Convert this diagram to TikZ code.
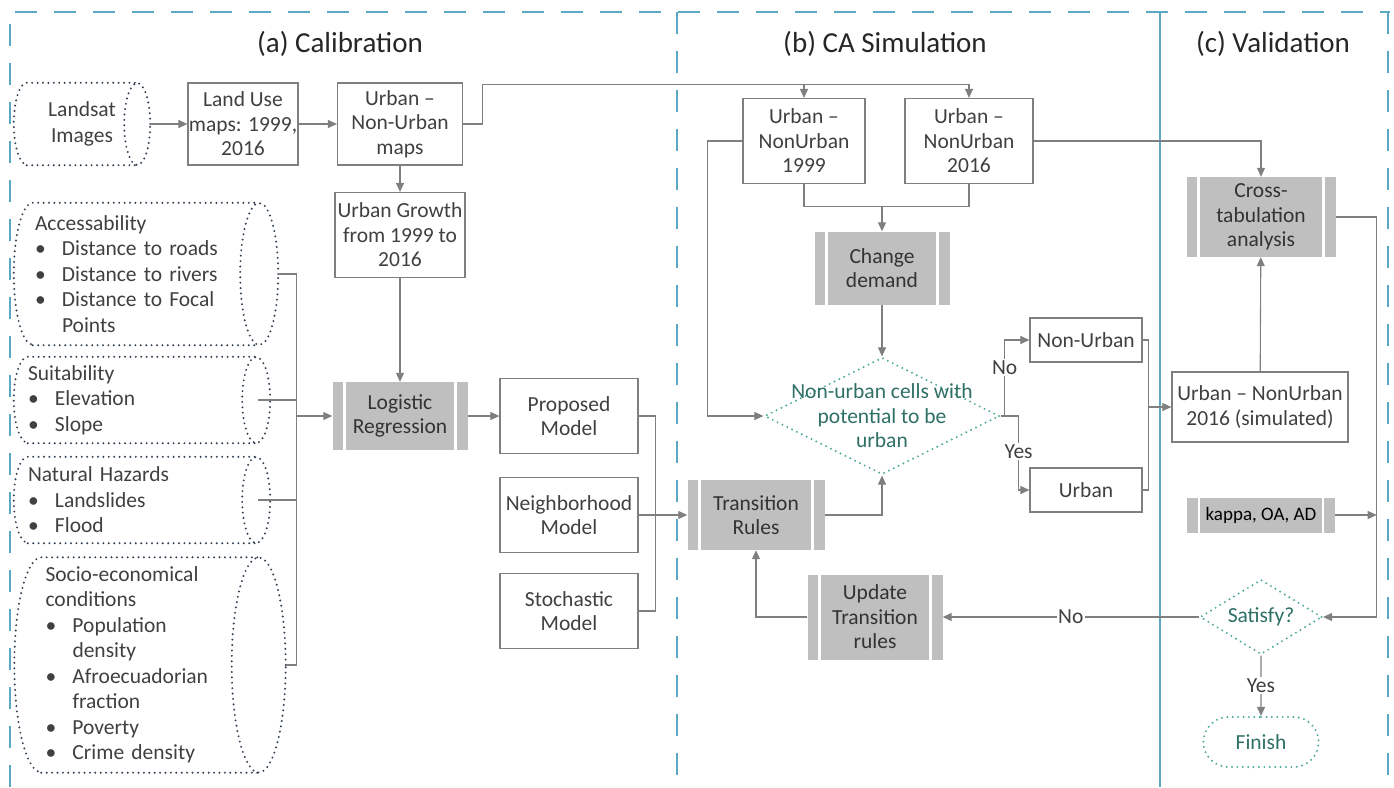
\documentclass[tikz,border=0pt]{standalone}
\usepackage{fontspec}
\setmainfont{Carlito}
\usetikzlibrary{shapes.geometric,shapes.misc,arrows.meta}

\definecolor{linegray}{HTML}{7F7F7F}
\definecolor{txtgray}{HTML}{404040}
\definecolor{procgray}{HTML}{BFBFBF}
\definecolor{inkblue}{HTML}{344256}
\definecolor{dotteal}{HTML}{4FA99C}
\definecolor{txtteal}{HTML}{2E6F66}
\definecolor{frameblue}{HTML}{5BA8C4}

\newcommand{\itm}[1]{\makebox[27pt][l]{\textbullet}#1}
\newcommand{\storeedge}[3]{%
  \draw[inkblue, dots] ([xshift=#2]#1.north west) -- ([xshift=-#2]#1.north east)
    ([xshift=#2]#1.south west) -- ([xshift=-#2]#1.south east)
    ([xshift=-#2]#1.east) ellipse [x radius=#2, y radius=#3]
    ([xshift=#2]#1.north west) arc [start angle=90, end angle=270, x radius=#2, y radius=#3];}

\tikzset{
  dots/.style={line width=2.2pt, line cap=round, dash pattern=on 0pt off 5.4pt},
  box/.style={draw=linegray, line width=1.2pt, text=txtgray, align=center,
    inner sep=0pt, font=\fontsize{21.5}{24.5}\selectfont},
  proc/.style={fill=procgray, text=black!80, align=center, inner sep=0pt,
    font=\fontsize{21.5}{24.5}\selectfont,
    path picture={
      \draw[white, line width=2.5pt]
        ([xshift=12pt]path picture bounding box.south west) -- ([xshift=12pt]path picture bounding box.north west)
        ([xshift=-12pt]path picture bounding box.south east) -- ([xshift=-12pt]path picture bounding box.north east);
    }},
  store/.style={text=txtgray, align=left, inner ysep=0pt,
    font=\fontsize{21.5}{25.5}\selectfont},
  choice/.style={diamond, draw=dotteal, dots, inner sep=0pt},
  choicetext/.style={text=txtteal, align=center, font=\fontsize{21.5}{24.5}\selectfont},
  flow/.style={draw=linegray, line width=1.1pt, -{Triangle[length=9pt,width=8pt]}},
  link/.style={draw=linegray, line width=1.1pt},
  lbl/.style={fill=white, text=txtgray, inner sep=1.5pt, font=\fontsize{21.5}{24.5}\selectfont},
  frame/.style={frameblue, line width=1.4pt, dash pattern=on 22pt off 17pt},
  title/.style={font=\fontsize{29}{34}\selectfont, text=black!85},
}

\begin{document}
\begin{tikzpicture}[x=1pt, y=-1pt]
\useasboundingbox (0,0) rectangle (1394,787);

\draw[frame] (10,787) -- (10,12) -- (1390,12);
\draw[frame] (677,12) -- (677,787);
\draw[frame] (1388,12) -- (1388,787);
\draw[frameblue, line width=1.2pt] (1160,12) -- (1160,787);

\node[title] (ta) at (340,44) {(a) Calibration};
\node[title] (tb) at (885,44) {(b) CA Simulation};
\node[title] (tc) at (1273,44) {(c) Validation};

\node[store, align=center, inner xsep=0pt, minimum width=136pt, minimum height=82pt] (landsat) at (82,124) {Landsat\\Images};
\storeedge{landsat}{13pt}{41pt}
\node[box, minimum width=110pt, minimum height=82pt] (landuse) at (243,124) {Land Use\\maps: 1999,\\2016};
\node[box, minimum width=125pt, minimum height=82pt] (maps) at (400,124) {Urban --\\Non-Urban\\maps};
\node[box, minimum width=130pt, minimum height=85pt] (growth) at (400,235) {Urban Growth\\from 1999 to\\2016};

\node[store, inner xsep=21pt, text width=222pt, minimum height=142pt] (acc) at (146,274)
  {Accessability\\\itm{Distance to roads}\\\itm{Distance to rivers}\\\itm{Distance to Focal}\\\hspace*{27pt}Points};
\storeedge{acc}{19pt}{71pt}
\node[store, inner xsep=14pt, text width=228pt, minimum height=86pt] (suit) at (142,400)
  {Suitability\\\itm{Elevation}\\\itm{Slope}};
\storeedge{suit}{14pt}{43pt}
\node[store, inner xsep=14pt, text width=228pt, minimum height=86pt] (haz) at (142,500)
  {Natural Hazards\\\itm{Landslides}\\\itm{Flood}};
\storeedge{haz}{14pt}{43pt}
\node[store, inner xsep=31pt, text width=209pt, minimum height=215pt] (socio) at (150,665)
  {Socio-economical\\conditions\\\itm{Population}\\\hspace*{27pt}density\\\itm{Afroecuadorian}\\\hspace*{27pt}fraction\\\itm{Poverty}\\\itm{Crime density}};
\storeedge{socio}{27pt}{107.5pt}

\node[proc, minimum width=135pt, minimum height=68pt] (logit) at (400,416) {Logistic\\Regression};
\node[box, minimum width=138pt, minimum height=75pt] (proposed) at (569,416) {Proposed\\Model};
\node[box, minimum width=138pt, minimum height=75pt] (neigh) at (569,515) {Neighborhood\\Model};
\node[box, minimum width=138pt, minimum height=75pt] (stoch) at (569,611) {Stochastic\\Model};

\node[box, minimum width=122pt, minimum height=85pt] (u1999) at (804,141) {Urban --\\NonUrban\\1999};
\node[box, minimum width=128pt, minimum height=85pt] (u2016) at (969,141) {Urban --\\NonUrban\\2016};
\node[proc, minimum width=135pt, minimum height=73pt] (demand) at (882,268) {Change\\demand};
\node[choice, minimum width=235pt, minimum height=117pt] (cells) at (882,416) {};
\node[choicetext] (cellstext) at (cells.center) {Non-urban cells with\\potential to be\\urban};
\node[box, minimum width=112pt, minimum height=44pt] (nonurb) at (1086,340) {Non-Urban};
\node[box, minimum width=112pt, minimum height=44pt] (urb) at (1086,490) {Urban};
\node[proc, minimum width=137pt, minimum height=70pt] (trans) at (756,515) {Transition\\Rules};
\node[proc, minimum width=135pt, minimum height=85pt] (update) at (875,617) {Update\\Transition\\rules};

\node[proc, minimum width=149pt, minimum height=80pt] (cross) at (1261,217) {Cross-\\tabulation\\analysis};
\node[box, minimum width=176pt, minimum height=70pt] (sim) at (1260,407) {Urban -- NonUrban\\2016 (simulated)};
\node[proc, minimum width=148pt, minimum height=35pt, font=\fontsize{19}{22}\selectfont, text=black] (kappa) at (1261,515) {kappa, OA, AD};
\node[choice, minimum width=122pt, minimum height=75pt] (satisfy) at (1261,617) {};
\node[choicetext] (satisfytext) at (satisfy.center) {Satisfy?};
\node[rounded rectangle, draw=dotteal, dots, choicetext, minimum width=122pt, minimum height=50pt] (finish) at (1261,742) {Finish};

\draw[flow] (landsat.east) -- (landuse.west);
\draw[flow] (landuse) -- (maps);
\draw[flow] (maps) -- (growth);
\draw[flow] (growth) -- (logit);
\draw[flow] (maps.east) -- ++(19,0) |- ([yshift=13pt]u2016.north) -- (u2016.north);
\draw[flow] ([yshift=13pt]u1999.north) -- (u1999.north);

\draw[link] (acc.east) -- ++(18,0) |- (socio.east);
\draw[link] ([xshift=-12pt]suit.east) -- ++(38,0);
\draw[link] ([xshift=-12pt]haz.east) -- ++(38,0);
\draw[flow] ([xshift=18pt]acc.east |- logit.west) -- (logit.west);
\draw[flow] (logit) -- (proposed);
\draw[link] (proposed.east) -- ++(17,0) |- (stoch.east);
\draw[flow] (neigh) -- (trans);

\draw[flow] (u1999.west) -- ++(-35,0) |- (cells.west);
\draw[link] (u1999.south) -- ++(0,22) -| (u2016.south);
\draw[flow] ([yshift=-22pt]u1999.south -| demand.north) -- (demand.north);
\draw[flow] (demand) -- (cells);
\draw[flow] (u2016.east) -| (cross.north);
\draw[flow] (cells.east) -- ++(4,0) |- (nonurb.west) node[lbl, pos=0.32] {No};
\draw[flow] (cells.east) -- ++(18,0) |- (urb.west) node[lbl, pos=0.24] {Yes};
\draw[link] (nonurb.east) -- ++(6,0) |- (urb.east);
\draw[flow] ([xshift=6pt]nonurb.east |- sim.west) -- (sim.west);
\draw[flow] (trans.east) -| (cells.south);
\draw[flow] (update.west) -| (trans.south);

\draw[flow] (sim) -- (cross);
\draw[flow] (cross.east) -- ++(41,0) |- (satisfy.east);
\draw[flow] (kappa.east) -- ([xshift=41pt]cross.east |- kappa.east);
\draw[flow] (satisfy) -- (update) node[lbl, midway] {No};
\draw[flow] (satisfy) -- (finish) node[lbl, midway] {Yes};
\end{tikzpicture}
\end{document}
